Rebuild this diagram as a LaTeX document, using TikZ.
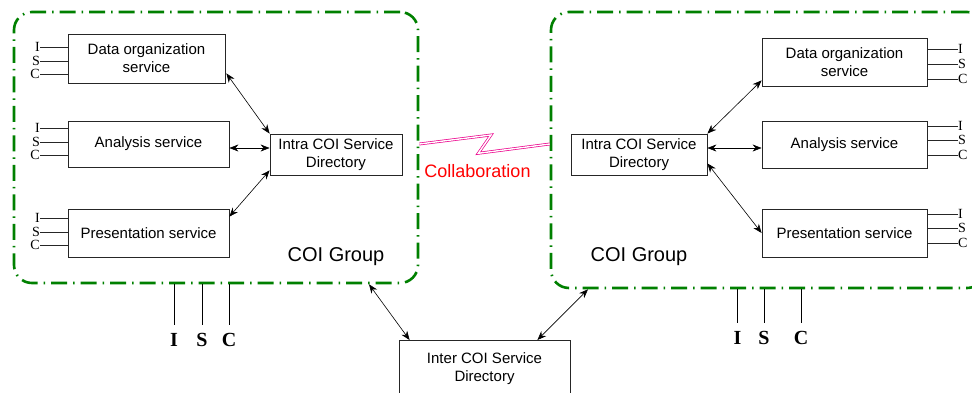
\documentclass[tikz,border=0pt]{standalone}
\usepackage{fontspec}
\setmainfont{Liberation Sans}
\newfontfamily\tnr{Liberation Serif}
\usetikzlibrary{arrows.meta,calc}
\definecolor{grpgreen}{RGB}{0,128,0}
\begin{document}
\begin{tikzpicture}[x=1pt,y=-1pt,
  svc/.style={draw=black!85, line width=0.8pt, fill=white,
    font=\fontsize{15}{18}\selectfont, align=center, inner sep=0pt},
  grp/.style={draw=grpgreen, line width=2.6pt, rounded corners=18pt,
    dash pattern=on 16pt off 6pt on 1.5pt off 6pt, inner sep=0pt},
  link/.style={line width=0.6pt,
    {Stealth[length=9pt,width=7pt]}-{Stealth[length=9pt,width=7pt]}},
  port/.style={line width=0.7pt, draw=black!85},
  plab/.style={font=\tnr\fontsize{14}{14}\selectfont, inner sep=0pt},
  blab/.style={font=\tnr\bfseries\fontsize{20}{20}\selectfont, inner sep=0pt},
  zig/.style={draw=magenta, double=white, line width=0.7pt, double distance=1.4pt},
]
\useasboundingbox (0,0) rectangle (972,392);
\clip (0,0) rectangle (972,392);

% COI group outlines
\node[grp, minimum width=404pt, minimum height=271pt] (lg) at (216,147.5) {};
\node[grp, minimum width=434pt, minimum height=276pt] (rg) at (768,150) {};

% left group services
\node[svc, minimum width=157pt, minimum height=49pt] (dl) at (146.5,58.5) {Data organization\\service};
\node[svc, minimum width=161pt, minimum height=46pt] (al) at (148.5,144) {Analysis service};
\node[svc, minimum width=161pt, minimum height=48pt] (pl) at (148.5,233) {Presentation service};
\node[svc, minimum width=132pt, minimum height=41pt] (il) at (336,154.5) {Intra COI Service\\Directory};

% right group services
\node[svc, minimum width=136pt, minimum height=41pt] (ir) at (639,154.5) {Intra COI Service\\Directory};
\node[svc, minimum width=165pt, minimum height=48pt] (dr) at (844.5,62) {Data organization\\service};
\node[svc, minimum width=165pt, minimum height=47pt] (ar) at (844.5,144.5) {Analysis service};
\node[svc, minimum width=165pt, minimum height=48pt] (pr) at (844.5,233) {Presentation service};

% inter-group directory
\node[svc, minimum width=171pt, minimum height=56pt, anchor=north] (inter) at (484.5,340) {Inter COI Service\\Directory};

% I/S/C ports on the left services
\foreach \b/\ya/\yb/\yc in {dl/47/61/74, al/128/142/155, pl/218/232/245} {
  \node[plab, anchor=east] (\b-I) at (40,\ya) {I};
  \node[plab, anchor=east] (\b-S) at (40,\yb) {S};
  \node[plab, anchor=east] (\b-C) at (40,\yc) {C};
  \foreach \p in {I,S,C}
    \draw[port] (\b-\p.east) -- (\b-\p.east -| \b.west);
}
% I/S/C ports on the right services
\foreach \b/\ya/\yb/\yc in {dr/49/64/79, ar/126/140/155, pr/214/228/243} {
  \node[plab, anchor=west] (\b-I) at (958,\ya) {I};
  \node[plab, anchor=west] (\b-S) at (958,\yb) {S};
  \node[plab, anchor=west] (\b-C) at (958,\yc) {C};
  \foreach \p in {I,S,C}
    \draw[port] (\b-\p.west) -- (\b-\p.west -| \b.east);
}

% group-level I/S/C interfaces
\node[blab] (gI) at (174,340) {I};
\node[blab] (gS) at (202,340) {S};
\node[blab] (gC) at (229,340) {C};
\node[blab] (hI) at (737.5,338) {I};
\node[blab] (hS) at (764,338) {S};
\node[blab] (hC) at (801,338) {C};
\foreach \n in {gI,gS,gC}
  \draw[line width=0.9pt] (\n |- lg.south) -- ($(\n.north)+(0,-8)$);
\foreach \n in {hI,hS,hC}
  \draw[line width=0.9pt] (\n |- rg.south) -- ($(\n.north)+(0,-8)$);

% links inside the left group
\draw[link] ($(dl.south east)+(1,-10)$) -- (il.north west);
\draw[link] (al.east |- 0,148) -- (il.west |- 0,148);
\draw[link] ($(pl.north east)+(0,8)$) -- ($(il.south west)+(0,-5)$);

% links inside the right group
\draw[link] (ir.north east) -- ($(dr.south west)+(0,-6)$);
\draw[link] (ir.east |- 0,148) -- (ar.west |- 0,148);
\draw[link] ($(ir.south east)+(0,-12)$) -- (pr.west);

% links to the inter-group directory
\draw[link] ($(inter.north west)+(11,0)$) -- (lg.south -| 369,0);
\draw[link] ($(inter.north east)+(-33,0)$) -- (rg.south -| 588,0);

% collaboration between the groups
\coordinate (zA) at (lg.east |- 0,144);
\coordinate (zD) at (rg.west |- 0,144);
\draw[zig] (zA) -- (491,135) -- (478.3,153.3) -- (zD);
\node[text=red, font=\fontsize{18}{20}\selectfont, inner sep=0pt] (collab) at (477.5,171.5) {Collaboration};

% group captions
\node[font=\fontsize{20}{24}\selectfont, inner sep=0pt] (lgl) at (336,257) {COI Group};
\node[font=\fontsize{20}{24}\selectfont, inner sep=0pt] (rgl) at (639,257) {COI Group};
\end{tikzpicture}
\end{document}
